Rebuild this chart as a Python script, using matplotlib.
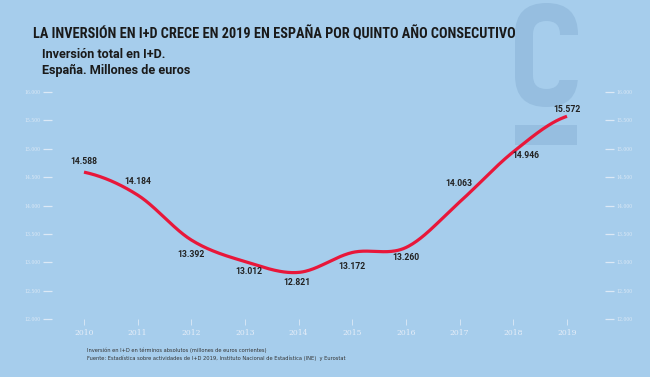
import numpy as np
import matplotlib.pyplot as plt
from matplotlib import font_manager
from matplotlib.patches import FancyBboxPatch, Rectangle

# datos
years = [2010, 2011, 2012, 2013, 2014, 2015, 2016, 2017, 2018, 2019]
inversion = [14588, 14184, 13392, 13012, 12821, 13172, 13260, 14063, 14946, 15572]
etiquetas = ["14.588", "14.184", "13.392", "13.012", "12.821",
             "13.172", "13.260", "14.063", "14.946", "15.572"]
yticks = [12000, 12500, 13000, 13500, 14000, 14500, 15000, 15500, 16000]
ytick_labels = ["12.000", "12.500", "13.000", "13.500", "14.000",
                "14.500", "15.000", "15.500", "16.000"]

# offsets of the value labels (pixels, x right / y up)
label_off = [(0, 11), (0, 14), (0, -14), (4, -10), (-2, -10),
             (0, -14), (0, -10), (-1, 18), (12, -4), (0, 7)]

BG = "#a6cdec"
LOGO = "#96bee0"
RED = "#e8173a"
TICK = "#dce9f6"


def catmull_rom(x, y, n=40):
    x = np.asarray(x, float)
    y = np.asarray(y, float)
    yp = np.concatenate([[y[0]], y, [y[-1]]])
    xs, ys = [], []
    for i in range(len(x) - 1):
        m0 = (yp[i + 2] - yp[i]) / 2
        m1 = (yp[i + 3] - yp[i + 1]) / 2
        t = np.linspace(0, 1, n, endpoint=False)
        h00 = 2 * t**3 - 3 * t**2 + 1
        h10 = t**3 - 2 * t**2 + t
        h01 = -2 * t**3 + 3 * t**2
        h11 = t**3 - t**2
        xs.append(x[i] + t * (x[i + 1] - x[i]))
        ys.append(h00 * y[i] + h10 * m0 + h01 * y[i + 1] + h11 * m1)
    xs.append([x[-1]])
    ys.append([y[-1]])
    return np.concatenate(xs), np.concatenate(ys)


def narrow_bold():
    # look for a condensed / narrow bold face
    prefs = ["Roboto Condensed", "Open Sans Condensed", "Liberation Sans Narrow",
             "DejaVu Sans Condensed", "DejaVu Sans"]
    fonts = font_manager.fontManager.ttflist
    for p in prefs:
        for f in fonts:
            if f.weight in ("bold", 700) and (f.name == p) and \
                    ("Condensed" in f.fname or "Narrow" in f.fname or p in ("DejaVu Sans Condensed",)):
                return font_manager.FontProperties(fname=f.fname)
    for f in fonts:
        if ("Condensed" in f.fname or "Narrow" in f.fname) and "Bold" in f.fname and "Oblique" not in f.fname \
                and "Italic" not in f.fname:
            return font_manager.FontProperties(fname=f.fname)
    return font_manager.FontProperties(family="DejaVu Sans", weight="bold")


def fit_width(t, px, renderer):
    for _ in range(3):
        w = t.get_window_extent(renderer).width
        t.set_fontsize(t.get_fontsize() * px / w)


W, H = 650, 377
fig = plt.figure(figsize=(6.5, 3.77), dpi=100, facecolor=BG)
renderer = fig.canvas.get_renderer()

# logo layer in pixel coordinates
bg = fig.add_axes([0, 0, 1, 1], zorder=0)
bg.set_xlim(0, W)
bg.set_ylim(H, 0)
bg.axis("off")
bg.add_patch(FancyBboxPatch((515 + 31.5, 3 + 31.5), 0, 104 - 63, boxstyle="round,pad=31.5",
                            fc=LOGO, ec="none"))
bg.add_patch(FancyBboxPatch((533 + 13.5, 21 + 13.5), 0, 68 - 27, boxstyle="round,pad=13.5",
                            fc=BG, ec="none"))
bg.add_patch(Rectangle((555, 35), 30, 45, fc=BG, ec="none"))
bg.add_patch(Rectangle((515, 125), 62, 20, fc=LOGO, ec="none"))

ax = fig.add_axes([52 / W, 1 - 319 / H, (605 - 52) / W, (319 - 92) / H], zorder=1)
ax.patch.set_alpha(0)
for s in ax.spines.values():
    s.set_visible(False)

xs, ys = catmull_rom(years, inversion)
ax.plot(xs, ys, color=RED, lw=2.3, solid_capstyle="butt", zorder=3)

for x, y, t, (dx, dy) in zip(years, inversion, etiquetas, label_off):
    ax.annotate(t, (x, y), xytext=(dx * 0.72, dy * 0.72), textcoords="offset points",
                ha="center", va="center", fontsize=6.2, fontweight="bold",
                family="Roboto", color="#222222", zorder=4)

ax.set_xlim(2010 - 32 / 53.67, 2019 + 38 / 53.67)
ax.set_ylim(12000, 16000)
ax.set_xticks(years)
ax.set_xticklabels([str(y) for y in years], family="DejaVu Serif", fontsize=5.5, color="#e6eef8")
ax.set_yticks(yticks)
ax.set_yticklabels(ytick_labels, family="DejaVu Serif", fontsize=3.3, color=TICK)
ax.tick_params(axis="y", left=True, right=True, labelleft=True, labelright=True,
               length=6.5, width=0.9, color=TICK, pad=1.5)
ax.tick_params(axis="x", length=4, width=0.6, color=TICK, pad=3)

fp = narrow_bold()
t1 = fig.text(33 / W, 1 - 34 / H, "LA INVERSIÓN EN I+D CRECE EN 2019 EN ESPAÑA POR QUINTO AÑO CONSECUTIVO",
              fontproperties=fp, fontsize=9.5, color="#1a1a1a", va="center", ha="left")
fit_width(t1, 484, renderer)
t2 = fig.text(42 / W, 1 - 55 / H, "Inversión total en I+D.", family="Roboto", weight="bold",
              fontsize=9.0, color="#1a1a1a", va="center")
fit_width(t2, 124, renderer)
t3 = fig.text(42 / W, 1 - 70 / H, "España. Millones de euros", family="Roboto", weight="bold",
              fontsize=t2.get_fontsize(), color="#1a1a1a", va="center")

fig.text(87 / W, 1 - 350 / H, "Inversión en I+D en términos absolutos (millones de euros corrientes)",
         fontsize=3.7, color="#333333", va="center")
fig.text(87 / W, 1 - 358 / H,
         "Fuente: Estadística sobre actividades de I+D 2019, Instituto Nacional de Estadística (INE)  y Eurostat",
         fontsize=3.7, color="#333333", va="center")

fig.savefig("out.png", dpi=100, facecolor=BG)
